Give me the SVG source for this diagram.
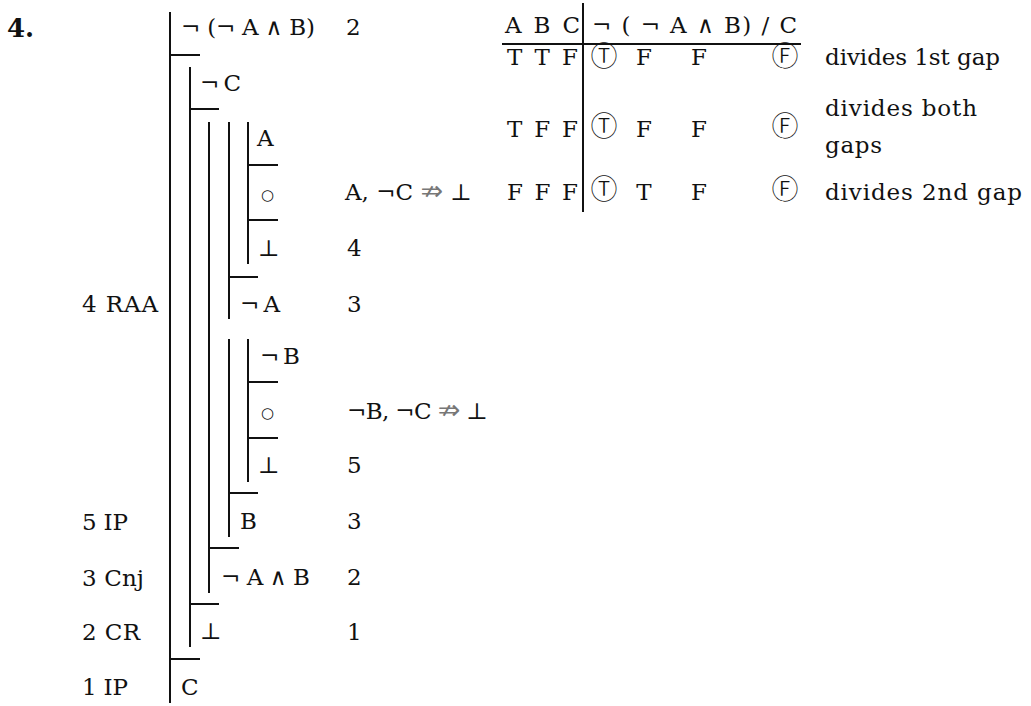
<svg xmlns="http://www.w3.org/2000/svg" width="1031" height="706" viewBox="0 0 1031 706">
<style>
  text { font-family: "DejaVu Serif", "Liberation Serif", serif; font-size: 23px; fill: #111; }
  .title { font-weight: bold; font-size: 26px; }
  .circ { font-family: "Noto Sans CJK JP", "DejaVu Sans", sans-serif; font-size: 27px; font-weight: 300; text-anchor: middle; }
  .mid { text-anchor: middle; }
  .dot { font-family: "DejaVu Sans", sans-serif; font-size: 15px; }
  .gray { fill: #777; font-family: "DejaVu Sans", sans-serif; font-size: 27px; }
  .bar { stroke: #111; stroke-width: 2; fill: none; }
</style>
<rect width="1031" height="706" fill="#fff"/>

<g id="title"><text class="title" x="7" y="37">4.</text></g>

<g id="connectors" class="bar">
  <line x1="170" y1="12" x2="170" y2="703"/>
  <line x1="170" y1="55" x2="200" y2="55"/>
  <line x1="190" y1="67" x2="190" y2="647"/>
  <line x1="190" y1="109" x2="219" y2="109"/>
  <line x1="209" y1="122" x2="209" y2="593"/>
  <line x1="229" y1="122" x2="229" y2="319"/>
  <line x1="229" y1="339" x2="229" y2="537"/>
  <line x1="248" y1="122" x2="248" y2="264"/>
  <line x1="248" y1="339" x2="248" y2="482"/>
  <line x1="248" y1="165" x2="278" y2="165"/>
  <line x1="248" y1="220" x2="278" y2="220"/>
  <line x1="229" y1="277" x2="258" y2="277"/>
  <line x1="248" y1="382" x2="278" y2="382"/>
  <line x1="248" y1="438" x2="278" y2="438"/>
  <line x1="229" y1="493" x2="258" y2="493"/>
  <line x1="209" y1="548" x2="239" y2="548"/>
  <line x1="190" y1="604" x2="219" y2="604"/>
  <line x1="170" y1="659" x2="200" y2="659"/>
</g>

<g id="line1">
  <text x="181" y="35" textLength="134" lengthAdjust="spacing">¬ (¬ A ∧ B)</text>
  <text x="346" y="35">2</text>
</g>
<g id="line2"><text x="200" y="91" textLength="41" lengthAdjust="spacing">¬ C</text></g>
<g id="line3"><text x="257" y="146">A</text></g>
<g id="line4">
  <text class="dot" x="261" y="200">○</text>
  <text x="345" y="200" textLength="127" lengthAdjust="spacing">A, ¬C <tspan class="gray">⇏</tspan> ⊥</text>
</g>
<g id="line5">
  <text x="258" y="256">⊥</text>
  <text x="347" y="256">4</text>
</g>
<g id="line6">
  <text x="82" y="312" textLength="76" lengthAdjust="spacing">4 RAA</text>
  <text x="240" y="312" textLength="40" lengthAdjust="spacing">¬ A</text>
  <text x="347" y="312">3</text>
</g>
<g id="line7"><text x="260" y="364" textLength="40" lengthAdjust="spacing">¬ B</text></g>
<g id="line8">
  <text class="dot" x="261" y="418">○</text>
  <text x="347" y="419" textLength="141" lengthAdjust="spacing">¬B, ¬C <tspan class="gray">⇏</tspan> ⊥</text>
</g>
<g id="line9">
  <text x="258" y="473">⊥</text>
  <text x="347" y="473">5</text>
</g>
<g id="line10">
  <text x="82" y="530" textLength="46" lengthAdjust="spacing">5 IP</text>
  <text x="240" y="529">B</text>
  <text x="347" y="529">3</text>
</g>
<g id="line11">
  <text x="82" y="586" textLength="62" lengthAdjust="spacing">3 Cnj</text>
  <text x="221" y="585" textLength="89" lengthAdjust="spacing">¬ A ∧ B</text>
  <text x="347" y="585">2</text>
</g>
<g id="line12">
  <text x="82" y="640" textLength="58" lengthAdjust="spacing">2 CR</text>
  <text x="200" y="639">⊥</text>
  <text x="347" y="640">1</text>
</g>
<g id="line13">
  <text x="82" y="695" textLength="46" lengthAdjust="spacing">1 IP</text>
  <text x="181" y="695">C</text>
</g>

<g id="truth-table">
  <line class="bar" x1="583" y1="3" x2="583" y2="212"/>
  <line class="bar" x1="502" y1="44" x2="801" y2="44"/>
  <text x="505" y="33" textLength="75" lengthAdjust="spacing">A B C</text>
  <text x="592" y="33" textLength="205" lengthAdjust="spacing">¬ ( ¬ A ∧ B) / C</text>

  <g id="row1">
    <text x="507" y="65" textLength="71" lengthAdjust="spacing">T T F</text>
    <text class="circ" x="604" y="66">Ⓣ</text>
    <text class="mid" x="644" y="65">F</text>
    <text class="mid" x="699" y="65">F</text>
    <text class="circ" x="785" y="66">Ⓕ</text>
    <text x="825" y="65" textLength="175" lengthAdjust="spacing">divides 1st gap</text>
  </g>
  <g id="row2">
    <text x="507" y="137" textLength="71" lengthAdjust="spacing">T F F</text>
    <text class="circ" x="604" y="136">Ⓣ</text>
    <text class="mid" x="644" y="137">F</text>
    <text class="mid" x="699" y="137">F</text>
    <text class="circ" x="785" y="136">Ⓕ</text>
    <text x="825" y="116" textLength="152" lengthAdjust="spacing">divides both</text>
    <text x="825" y="153" textLength="57" lengthAdjust="spacing">gaps</text>
  </g>
  <g id="row3">
    <text x="507" y="200" textLength="71" lengthAdjust="spacing">F F F</text>
    <text class="circ" x="604" y="199">Ⓣ</text>
    <text class="mid" x="644" y="200">T</text>
    <text class="mid" x="699" y="200">F</text>
    <text class="circ" x="785" y="199">Ⓕ</text>
    <text x="825" y="200" textLength="197" lengthAdjust="spacing">divides 2nd gap</text>
  </g>
</g>
</svg>
